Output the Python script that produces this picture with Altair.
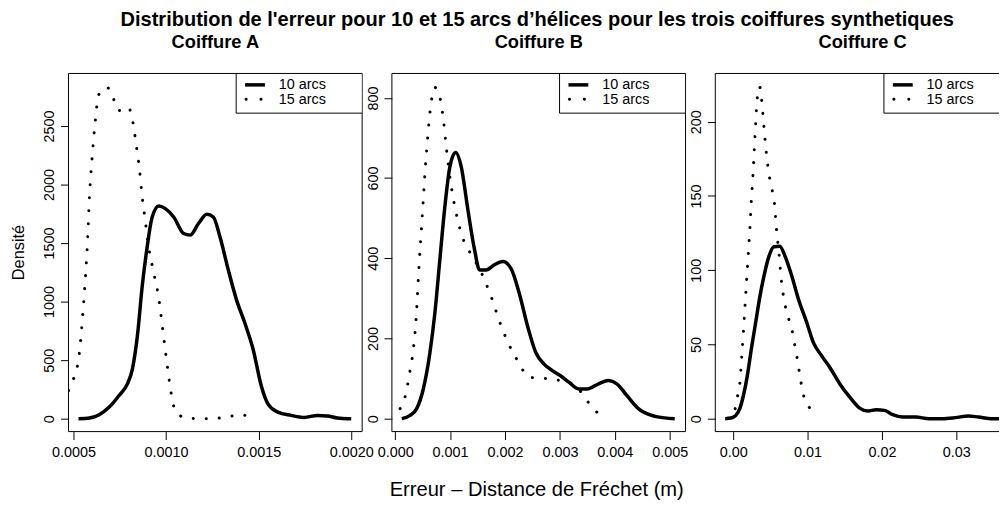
import altair as alt
import pandas as pd

FONT = "Liberation Sans"

# ---------------- data ----------------
panel_titles = ["Coiffure A", "Coiffure B", "Coiffure C"]
series_names = ["10 arcs", "15 arcs"]
main_title = "Distribution de l'erreur pour 10 et 15 arcs d\u2019h\u00e9lices pour les trois coiffures synthetiques"
x_title = "Erreur \u2013 Distance de Fr\u00e9chet (m)"
y_title = "Densit\u00e9"

# Coiffure A
a10_x = [0.000527, 0.000586, 0.000639, 0.000693, 0.000746, 0.000791, 0.000818, 0.000845, 0.000871,
         0.000898, 0.000925, 0.000961, 0.000996, 0.001041, 0.001095, 0.00113, 0.001175, 0.00122,
         0.001255, 0.001291, 0.001336, 0.00138, 0.001425, 0.00147, 0.001514, 0.00155, 0.001604,
         0.001675, 0.001746, 0.001818, 0.001871, 0.001925, 0.001979, 0.0020]
a10_y = [0, 6, 34, 99, 198, 297, 424, 706, 1130, 1469, 1723, 1816, 1794, 1723, 1582, 1568, 1667, 1746,
         1723, 1554, 1271, 1017, 819, 593, 282, 127, 56, 28, 11, 28, 23, 6, 0, 0]
a15_x = [0.000473, 0.0005, 0.000532, 0.00055, 0.000565, 0.000577, 0.000586, 0.0006, 0.000618, 0.000636,
         0.000679, 0.000714, 0.000741, 0.00077, 0.000795, 0.000818, 0.000839, 0.000857, 0.000871,
         0.000889, 0.000907, 0.000934, 0.000961, 0.000979, 0.000996, 0.001014, 0.001036, 0.001064,
         0.001127, 0.001196, 0.001264, 0.001336, 0.001402, 0.00147]
a15_y = [240, 339, 565, 890, 1220, 1554, 1887, 2218, 2548, 2768, 2833, 2740, 2633, 2640, 2661, 2557,
         2336, 2119, 1893, 1672, 1455, 1243, 1023, 799, 579, 362, 141, 37, 2, 0, 2, 17, 34, 0]

# Coiffure B
b10_x = [0.00012, 0.000271, 0.000392, 0.000512, 0.000633, 0.000723, 0.000813, 0.000904, 0.000994,
         0.001102, 0.001205, 0.001325, 0.001446, 0.001536, 0.001657, 0.001807, 0.001958, 0.002108,
         0.002259, 0.00241, 0.00256, 0.002711, 0.002861, 0.003012, 0.003163, 0.003343, 0.003494,
         0.003705, 0.003886, 0.004036, 0.004217, 0.004428, 0.004669, 0.00491, 0.00509]
b10_y = [0, 8, 25, 74, 165, 264, 396, 528, 627, 664, 627, 520, 421, 371, 371, 384, 392, 375, 313, 231,
         165, 136, 120, 107, 91, 74, 74, 87, 95, 87, 58, 25, 8, 2, 0]
b15_x = [0.00009, 0.00018, 0.000271, 0.000331, 0.00038, 0.000434, 0.000494, 0.000554, 0.000592,
         0.000633, 0.000723, 0.000813, 0.000886, 0.000934, 0.001024, 0.001114, 0.001235, 0.001337,
         0.001458, 0.001566, 0.001657, 0.001747, 0.001898, 0.002078, 0.002187, 0.002301, 0.002458,
         0.002681, 0.002922, 0.003151, 0.003313, 0.003476, 0.003627, 0.003825]
b15_y = [25, 54, 120, 173, 247, 379, 507, 635, 701, 763, 826, 802, 736, 672, 577, 511, 449, 421, 393,
         365, 336, 305, 243, 183, 155, 126, 103, 101, 97, 91, 78, 48, 22, 2]

# Coiffure C
c10_x = [-0.00107, -0.00031, 0.00036, 0.00089, 0.00138, 0.00191, 0.00244, 0.00302, 0.0036, 0.00413,
         0.00479, 0.00546, 0.00626, 0.00701, 0.0079, 0.00879, 0.0099, 0.01079, 0.0119, 0.013, 0.01434,
         0.01567, 0.017, 0.01811, 0.01922, 0.02033, 0.02144, 0.02277, 0.02454, 0.02632, 0.0281,
         0.02987, 0.03165, 0.03298, 0.03475, 0.03586, 0.0372]
c10_y = [0, 0.4, 2.2, 6.7, 15.6, 29, 46.8, 64.6, 82.4, 95.8, 109, 115.8, 116.2, 109, 95.8, 80.2, 64.6,
         51.2, 42.3, 34.5, 23.4, 14.5, 7.1, 5.1, 6.0, 5.6, 2.7, 1.1, 1.1, 0, 0, 0.7, 1.8, 1.1, 0, 0, 0]
c15_x = [0.00027, 0.00058, 0.00089, 0.00115, 0.00138, 0.0016, 0.00182, 0.00204, 0.00226, 0.00244,
         0.00266, 0.00284, 0.00302, 0.00324, 0.00355, 0.00382, 0.00413, 0.00444, 0.00488, 0.00524,
         0.00555, 0.00581, 0.00617, 0.00648, 0.0067, 0.00701, 0.00746, 0.00794, 0.00826, 0.00857,
         0.00883, 0.00945, 0.01021, 0.01123]
c15_y = [6.7, 14.9, 23.4, 41.2, 58.6, 76.2, 94, 111.4, 128.7, 146.3, 163.7, 180.8, 198.2, 216, 223.8,
         214.9, 197, 179.9, 162.6, 154.1, 145.2, 128, 110.7, 93.1, 84.6, 75.7, 67.3, 59, 50.1, 41.6,
         33.4, 16, 7.8, 1.1]

# axes
a_xticks = [0.0005, 0.0010, 0.0015, 0.0020]
a_yticks = [0, 500, 1000, 1500, 2000, 2500]
b_xticks = [0.000, 0.001, 0.002, 0.003, 0.004, 0.005]
b_yticks = [0, 200, 400, 600, 800]
c_xticks = [0.00, 0.01, 0.02, 0.03]
c_yticks = [0, 50, 100, 150, 200]

H = 361
ONE = pd.DataFrame({"k": [0]})


def vrule(x, y, y2, color="black", width=1, **kw):
    return alt.Chart(ONE).mark_rule(color=color, strokeWidth=width, **kw).encode(
        x=alt.value(x), y=alt.value(y), y2=alt.value(y2))


def hrule(x, x2, y, color="black", width=1, **kw):
    return alt.Chart(ONE).mark_rule(color=color, strokeWidth=width, **kw).encode(
        x=alt.value(x), x2=alt.value(x2), y=alt.value(y))


def text(x, y, s, size, bold=False, align="center", angle=0, baseline="alphabetic"):
    return alt.Chart(ONE).mark_text(font=FONT, fontSize=size, fontWeight="bold" if bold else "normal",
                                    align=align, baseline=baseline, angle=angle, color="black").encode(
        x=alt.value(x), y=alt.value(y), text=alt.value(s))


def panel(d10x, d10y, d15x, d15y, xdom, ydom, xticks, yticks, xfmt, W, Wfull, title, right_frame, extra):
    df10 = pd.DataFrame({"x": d10x, "y": d10y})
    df15 = pd.DataFrame({"x": d15x, "y": d15y})
    xs = alt.Scale(domain=xdom, nice=False, zero=False)
    ys = alt.Scale(domain=ydom, nice=False, zero=False)
    common = dict(grid=False, domain=False, tickSize=8, tickColor="black", tickWidth=1,
                  labelFont=FONT, labelFontSize=14.5, labelColor="black", labelOverlap=False,
                  labelFlush=False, title=None)
    xa = alt.Axis(values=xticks, format=xfmt, labelPadding=17, labelBaseline="alphabetic",
                  labelAlign="center", **common)
    ya = alt.Axis(values=yticks, format="d", labelAngle=270, labelAlign="center",
                  labelBaseline="alphabetic", labelPadding=7, **common)
    l10 = alt.Chart(df10).mark_line(color="black", strokeWidth=3.5, interpolate="monotone",
                                    clip=True).encode(
        x=alt.X("x:Q", scale=xs, axis=xa), y=alt.Y("y:Q", scale=ys, axis=ya))
    l15 = alt.Chart(df15).mark_line(color="black", strokeWidth=3, strokeDash=[0.1, 13],
                                    strokeCap="round", interpolate="monotone", clip=True).encode(
        x="x:Q", y="y:Q")
    lx = Wfull - 127
    layers = [l10, l15,
              # frame
              vrule(0, 0, H), hrule(0, W, 0), hrule(0, W, H)]
    if right_frame:
        layers.append(vrule(W, 0, H))
    # legend
    layers += [
        alt.Chart(ONE).mark_rect(fill="white").encode(
            x=alt.value(lx + 0.5), x2=alt.value(W - 0.5), y=alt.value(0.5), y2=alt.value(40)),
        vrule(lx, 0, 40), hrule(lx, W, 40),
        hrule(lx + 9, lx + 29, 11.5, width=3.5),
        hrule(lx + 10, lx + 25.2, 26, width=3, strokeDash=[0.1, 14.9], strokeCap="round"),
        text(lx + 43, 16, series_names[0], 14.5, align="left"),
        text(lx + 43, 31, series_names[1], 14.5, align="left"),
        text(Wfull / 2, -26, title, 18.4, bold=True),
    ]
    layers += extra
    return alt.layer(*layers).properties(width=W, height=H)


WA, WB, WC = 296, 296, 286

pA = panel(a10_x, a10_y, a15_x, a15_y, [0.000473, 0.002059], [-110.2, 2949], a_xticks, a_yticks,
           ".4f", WA, WA, panel_titles[0], True,
           [text(-45, 180.5, y_title, 16.5, angle=270),
            hrule(-60.5, -59.5, -63.5, color="white")])
pB = panel(b10_x, b10_y, b15_x, b15_y, [-0.0000596, 0.005287], [-32.2, 861], b_xticks, b_yticks,
           ".3f", WB, WB, panel_titles[1], True,
           [text(146.5, -47.5, main_title, 20.2, bold=True),
            text(146, 426, x_title, 20.3)])
pC = panel(c10_x, c10_y, c15_x, c15_y, [-0.0024, 0.035733], [-8.7, 232.5], c_xticks, c_yticks,
           ".2f", WC, 297, panel_titles[2], False, [])

chart = alt.hconcat(pA, pB, pC, spacing=30, bounds="flush", padding=0).configure_view(stroke=None)

chart.save("out.html", embed_options={"renderer": "svg", "actions": False})
